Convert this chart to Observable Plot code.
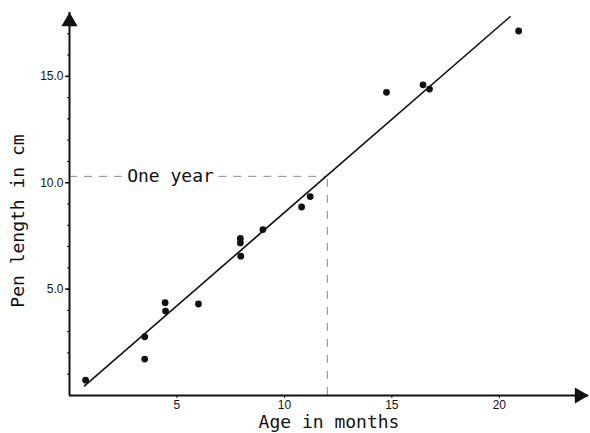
<!DOCTYPE html>
<html>
<head>
<meta charset="utf-8">
<script src="https://cdn.jsdelivr.net/npm/d3@7"></script>
<script src="https://cdn.jsdelivr.net/npm/@observablehq/plot@0.6"></script>
<style>
  html, body { margin: 0; padding: 0; background: #fff; }
  #chart svg { display: block; }
</style>
</head>
<body>
<div id="chart"></div>
<script>
// Age in months
const ages = [0.75, 3.5, 3.5, 4.45, 4.47, 6.0, 7.95, 7.95, 7.97, 9.0, 10.8, 11.2, 14.75, 16.45, 16.75, 20.9];
// Pen length in cm
const lengths = [0.72, 2.76, 1.71, 4.36, 3.97, 4.3, 7.38, 7.17, 6.55, 7.8, 8.86, 9.35, 14.25, 14.6, 14.4, 17.13];
// fitted line end points (age, length)
const fitAges = [0.7, 20.5];
const fitLengths = [0.45, 17.8];
// "One year" marker
const markAge = [12];
const markLength = [10.3];
const markLabel = ["One year"];
// ticks
const xTicks = [5, 10, 15, 20];
const yTicks = [5, 10, 15];
const yMinor = d3.range(1, 18);
const xMax = 24.15, yMax = 18;

const points = ages.map((a, i) => ({age: a, len: lengths[i]}));
const fit = fitAges.map((a, i) => ({age: a, len: fitLengths[i]}));
const mono = "DejaVu Sans Mono, monospace";

const chart = Plot.plot({
  width: 590,
  height: 433,
  marginLeft: 69,
  marginRight: 2,
  marginTop: 12,
  marginBottom: 38,
  style: {fontFamily: "Liberation Sans, Arial, sans-serif", fontSize: "12px", background: "#fff", color: "#111"},
  x: {type: "linear", domain: [0, xMax], axis: null, label: null},
  y: {type: "linear", domain: [0, yMax], axis: null, label: null},
  marks: [
    // dashed guide lines
    Plot.ruleY(markLength, {x1: 0, x2: 2.45, stroke: "#888", strokeDasharray: "8,7", strokeWidth: 1}),
    Plot.ruleY(markLength, {x1: 6.95, x2: markAge[0], stroke: "#888", strokeDasharray: "8,7", strokeWidth: 1}),
    Plot.ruleX(markAge, {y1: 0, y2: markLength[0], stroke: "#888", strokeDasharray: "8,8", strokeWidth: 1}),
    Plot.text(markLabel, {x: markAge.map(() => 4.7), y: markLength, fontFamily: mono, fontSize: 18, fill: "#111"}),
    // regression line
    Plot.line(fit, {x: "age", y: "len", stroke: "#111", strokeWidth: 1.6}),
    // data points
    Plot.dot(points, {x: "age", y: "len", r: 3.4, fill: "#111", stroke: "none"}),
    // axes lines
    Plot.ruleX([0], {y1: 0, y2: yMax, stroke: "#111", strokeWidth: 2}),
    Plot.ruleY([0], {x1: 0, x2: xMax, stroke: "#111", strokeWidth: 2}),
    // arrow heads
    Plot.dot([0], {x: 0, y: yMax, symbol: "triangle", r: 6, fill: "#111", stroke: "none", dy: 9}),
    Plot.dot([0], {x: xMax, y: 0, symbol: "triangle", r: 6, fill: "#111", stroke: "none", rotate: 90, dx: -9}),
    // ticks
    Plot.axisY(yMinor, {tickSize: 2, tickFormat: () => "", stroke: "#111", label: null}),
    Plot.axisY(yTicks, {tickFormat: d3.format(".1f"), tickSize: 4, tickPadding: 2, stroke: "#111", fill: "#111", strokeWidth: 1.5, fontSize: 12, label: null}),
    Plot.axisX(xTicks, {tickSize: 3, tickPadding: 2, stroke: "#111", fill: "#111", fontSize: 12, label: null}),
    // axis titles
    Plot.text(["Age in months"], {frameAnchor: "bottom", dy: 27, fontFamily: mono, fontSize: 18, fill: "#111", lineAnchor: "middle"}),
    Plot.text(["Pen length in cm"], {x: 0, y: 8.2, dx: -51, rotate: -90, fontFamily: mono, fontSize: 18, fill: "#111"})
  ]
});
document.getElementById("chart").appendChild(chart);
</script>
</body>
</html>
